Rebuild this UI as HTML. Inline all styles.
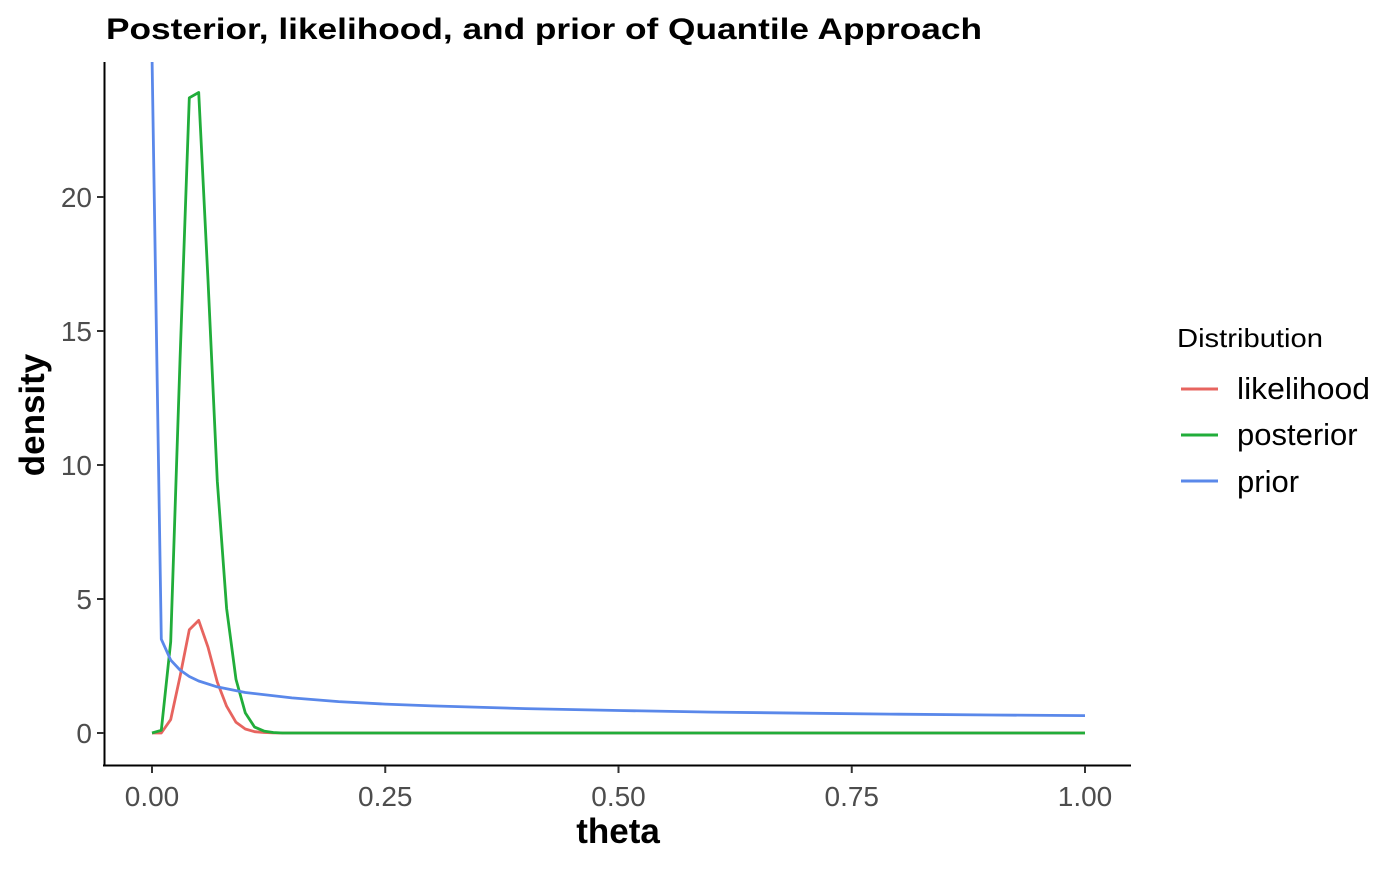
<!DOCTYPE html>
<html><head><meta charset="utf-8"><style>
body{margin:0;background:#fff;width:1400px;height:865px;overflow:hidden;font-family:"Liberation Sans",Arial,sans-serif}
</style></head><body>
<svg id="chart" width="1400" height="865" xmlns="http://www.w3.org/2000/svg">
<defs><clipPath id="clip"><rect x="104" y="62" width="1027" height="703"/></clipPath></defs>
<text x="106" y="39" font-size="30" font-weight="bold" fill="#000" textLength="876" lengthAdjust="spacingAndGlyphs">Posterior, likelihood, and prior of Quantile Approach</text>
<g id="plot" clip-path="url(#clip)"></g>
<line x1="104.5" y1="62" x2="104.5" y2="766" stroke="#000" stroke-width="2"/>
<line x1="103" y1="765.5" x2="1131" y2="765.5" stroke="#000" stroke-width="2"/>
<g id="axes"></g>
<text x="618" y="843" font-size="35" font-weight="bold" text-anchor="middle">theta</text>
<text transform="translate(44,415) rotate(-90)" font-size="35" font-weight="bold" text-anchor="middle">density</text>
<g>
<text x="1177" y="347" font-size="26" textLength="146" lengthAdjust="spacingAndGlyphs">Distribution</text>
<g><line x1="1181" y1="389" x2="1218" y2="389" stroke="#E7645F" stroke-width="3"/><text x="1237" y="399" font-size="31" textLength="133" lengthAdjust="spacingAndGlyphs">likelihood</text></g>
<g><line x1="1181" y1="435" x2="1218" y2="435" stroke="#21AD3A" stroke-width="3"/><text x="1237" y="445" font-size="31">posterior</text></g>
<g><line x1="1181" y1="481" x2="1218" y2="481" stroke="#5A88EA" stroke-width="3"/><text x="1237" y="492" font-size="31">prior</text></g>
</g>
</svg>
<script>
const thetaPeak = [0,0.01,0.02,0.03,0.04,0.05,0.06,0.07,0.08,0.09,0.10,0.11,0.12,0.13,0.14,0.15,1.0];
const likelihood = [0,0,0.5,2.1,3.85,4.2,3.2,1.9,1.0,0.4,0.15,0.05,0.02,0.005,0,0,0];
const posterior = [0,0.1,3.4,13.9,23.7,23.9,16.9,9.4,4.65,2.0,0.75,0.22,0.07,0.02,0,0,0];
const thetaPrior = [0,0.01,0.02,0.03,0.04,0.05,0.07,0.1,0.15,0.2,0.25,0.3,0.4,0.5,0.6,0.7,0.8,0.9,1.0];
const prior = [25.3,3.5,2.72,2.35,2.11,1.94,1.72,1.51,1.31,1.17,1.08,1.01,0.91,0.84,0.78,0.74,0.70,0.67,0.65];
const xTicks = [0,0.25,0.5,0.75,1];
const xTickLabels = ["0.00","0.25","0.50","0.75","1.00"];
const yTicks = [0,5,10,15,20];
const ns="http://www.w3.org/2000/svg";
const X = v => 152 + v*933;
const Y = v => 733 - v*26.8;
const plot=document.getElementById('plot'), axes=document.getElementById('axes');
function line(xs, ys, color, name){
  const p=document.createElementNS(ns,'path');
  p.setAttribute('d', xs.map((x,i)=>(i?'L':'M')+X(x).toFixed(1)+','+Y(ys[i]).toFixed(1)).join(''));
  p.setAttribute('fill','none');p.setAttribute('stroke',color);p.setAttribute('stroke-width','2.8');
  p.setAttribute('stroke-linejoin','round');
  
  
  plot.appendChild(p);
}
line(thetaPeak, likelihood, '#E7645F', 'likelihood-line');
line(thetaPeak, posterior, '#21AD3A', 'posterior-line');
line(thetaPrior, prior, '#5A88EA', 'prior-line');
xTicks.forEach((t,i)=>{
  const l=document.createElementNS(ns,'line');
  l.setAttribute('x1',X(t));l.setAttribute('x2',X(t));l.setAttribute('y1',766);l.setAttribute('y2',773);
  l.setAttribute('stroke','#333');l.setAttribute('stroke-width','2');
  
  
  axes.appendChild(l);
  const tx=document.createElementNS(ns,'text');
  tx.setAttribute('x',X(t));tx.setAttribute('y',806);tx.setAttribute('font-size','28');
  tx.setAttribute('text-anchor','middle');tx.setAttribute('fill','#4d4d4d');
  tx.textContent=xTickLabels[i];
  
  
  axes.appendChild(tx);
});
yTicks.forEach(t=>{
  const l=document.createElementNS(ns,'line');
  l.setAttribute('x1',97);l.setAttribute('x2',104);l.setAttribute('y1',Y(t));l.setAttribute('y2',Y(t));
  l.setAttribute('stroke','#333');l.setAttribute('stroke-width','2');
  
  
  axes.appendChild(l);
  const tx=document.createElementNS(ns,'text');
  tx.setAttribute('x',92);tx.setAttribute('y',Y(t)+10);tx.setAttribute('font-size','28');
  tx.setAttribute('text-anchor','end');tx.setAttribute('fill','#4d4d4d');
  tx.textContent=String(t);
  
  
  axes.appendChild(tx);
});
</script>
</body></html>
